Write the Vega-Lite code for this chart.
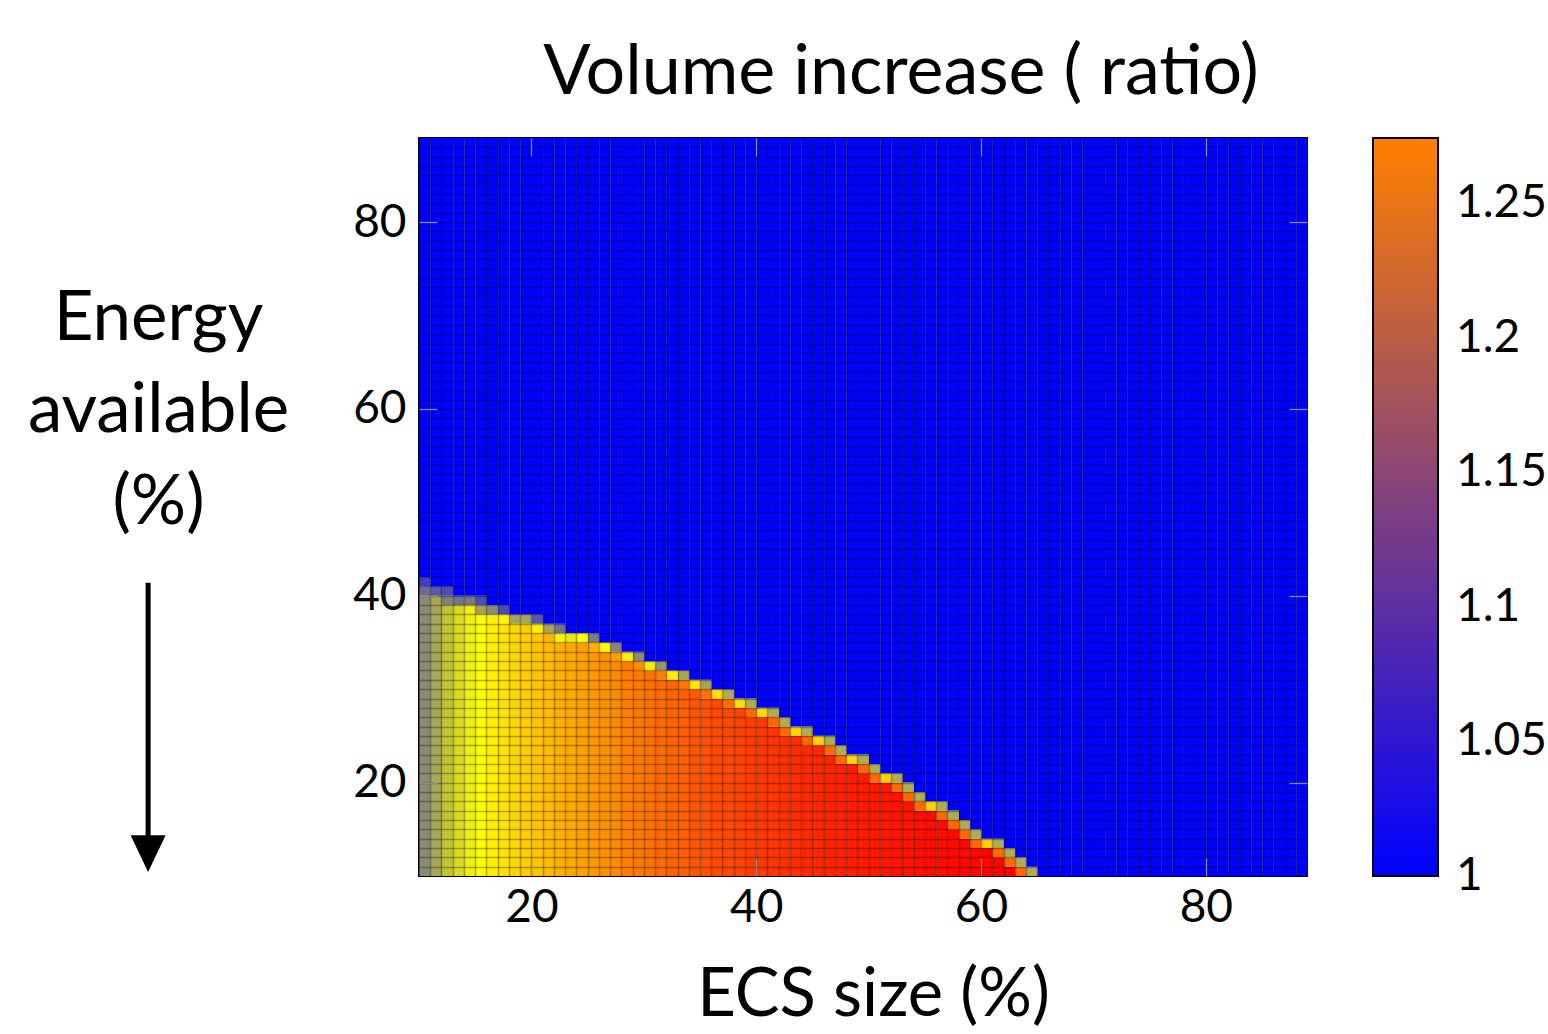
{
  "$schema": "https://vega.github.io/schema/vega-lite/v6.json",
  "width": 888,
  "height": 738,
  "autosize": {"type": "none"},
  "padding": {"left": 419, "top": 138, "right": 241, "bottom": 158},
  "background": "white",
  "config": {
    "font": "Lato",
    "view": {"stroke": "black", "strokeWidth": 2}
  },
  "title": {
    "text": "Volume increase ( ratio)",
    "font": "Lato",
    "fontSize": 70,
    "fontWeight": "normal",
    "color": "black",
    "anchor": "middle",
    "frame": "group",
    "dx": 38,
    "offset": 28
  },
  "data": {
    "values": [
      {"x":10,"y":10,"y2":40,"r":1.055},{"x":10,"y":40,"y2":41,"r":1.042},{"x":10,"y":41,"y2":42,"r":1.025},{"x":10,"y":42,"y2":89,"r":1},
      {"x":11,"y":10,"y2":40,"r":1.066},{"x":11,"y":40,"y2":41,"r":1.035},{"x":11,"y":41,"y2":89,"r":1},
      {"x":12,"y":10,"y2":39,"r":1.077},{"x":12,"y":39,"y2":40,"r":1.05},{"x":12,"y":40,"y2":41,"r":1.03},{"x":12,"y":41,"y2":89,"r":1},
      {"x":13,"y":10,"y2":39,"r":1.086},{"x":13,"y":39,"y2":40,"r":1.045},{"x":13,"y":40,"y2":89,"r":1},
      {"x":14,"y":10,"y2":39,"r":1.094},{"x":14,"y":39,"y2":40,"r":1.048},{"x":14,"y":40,"y2":89,"r":1},
      {"x":15,"y":10,"y2":38,"r":1.1},{"x":15,"y":38,"y2":39,"r":1.065},{"x":15,"y":39,"y2":40,"r":1.03},{"x":15,"y":40,"y2":89,"r":1},
      {"x":16,"y":10,"y2":38,"r":1.11},{"x":16,"y":38,"y2":39,"r":1.055},{"x":16,"y":39,"y2":89,"r":1},
      {"x":17,"y":10,"y2":37,"r":1.119},{"x":17,"y":37,"y2":38,"r":1.105},{"x":17,"y":38,"y2":39,"r":1.03},{"x":17,"y":39,"y2":89,"r":1},
      {"x":18,"y":10,"y2":37,"r":1.127},{"x":18,"y":37,"y2":38,"r":1.065},{"x":18,"y":38,"y2":89,"r":1},
      {"x":19,"y":10,"y2":37,"r":1.134},{"x":19,"y":37,"y2":38,"r":1.065},{"x":19,"y":38,"y2":89,"r":1},
      {"x":20,"y":10,"y2":36,"r":1.139},{"x":20,"y":36,"y2":37,"r":1.108},{"x":20,"y":37,"y2":38,"r":1.035},{"x":20,"y":38,"y2":89,"r":1},
      {"x":21,"y":10,"y2":36,"r":1.146},{"x":21,"y":36,"y2":37,"r":1.065},{"x":21,"y":37,"y2":89,"r":1},
      {"x":22,"y":10,"y2":35,"r":1.152},{"x":22,"y":35,"y2":36,"r":1.11},{"x":22,"y":36,"y2":37,"r":1.045},{"x":22,"y":37,"y2":89,"r":1},
      {"x":23,"y":10,"y2":35,"r":1.158},{"x":23,"y":35,"y2":36,"r":1.092},{"x":23,"y":36,"y2":89,"r":1},
      {"x":24,"y":10,"y2":35,"r":1.163},{"x":24,"y":35,"y2":36,"r":1.1},{"x":24,"y":36,"y2":89,"r":1},
      {"x":25,"y":10,"y2":34,"r":1.169},{"x":25,"y":34,"y2":35,"r":1.155},{"x":25,"y":35,"y2":36,"r":1.05},{"x":25,"y":36,"y2":89,"r":1},
      {"x":26,"y":10,"y2":34,"r":1.174},{"x":26,"y":34,"y2":35,"r":1.105},{"x":26,"y":35,"y2":89,"r":1},
      {"x":27,"y":10,"y2":33,"r":1.179},{"x":27,"y":33,"y2":34,"r":1.165},{"x":27,"y":34,"y2":35,"r":1.052},{"x":27,"y":35,"y2":89,"r":1},
      {"x":28,"y":10,"y2":33,"r":1.185},{"x":28,"y":33,"y2":34,"r":1.11},{"x":28,"y":34,"y2":89,"r":1},
      {"x":29,"y":10,"y2":32,"r":1.19},{"x":29,"y":32,"y2":33,"r":1.175},{"x":29,"y":33,"y2":34,"r":1.055},{"x":29,"y":34,"y2":89,"r":1},
      {"x":30,"y":10,"y2":32,"r":1.195},{"x":30,"y":32,"y2":33,"r":1.112},{"x":30,"y":33,"y2":89,"r":1},
      {"x":31,"y":10,"y2":31,"r":1.199},{"x":31,"y":31,"y2":32,"r":1.185},{"x":31,"y":32,"y2":33,"r":1.06},{"x":31,"y":33,"y2":89,"r":1},
      {"x":32,"y":10,"y2":31,"r":1.203},{"x":32,"y":31,"y2":32,"r":1.115},{"x":32,"y":32,"y2":89,"r":1},
      {"x":33,"y":10,"y2":30,"r":1.207},{"x":33,"y":30,"y2":31,"r":1.19},{"x":33,"y":31,"y2":32,"r":1.065},{"x":33,"y":32,"y2":89,"r":1},
      {"x":34,"y":10,"y2":30,"r":1.211},{"x":34,"y":30,"y2":31,"r":1.118},{"x":34,"y":31,"y2":89,"r":1},
      {"x":35,"y":10,"y2":29,"r":1.215},{"x":35,"y":29,"y2":30,"r":1.195},{"x":35,"y":30,"y2":31,"r":1.065},{"x":35,"y":31,"y2":89,"r":1},
      {"x":36,"y":10,"y2":29,"r":1.219},{"x":36,"y":29,"y2":30,"r":1.12},{"x":36,"y":30,"y2":89,"r":1},
      {"x":37,"y":10,"y2":28,"r":1.222},{"x":37,"y":28,"y2":29,"r":1.197},{"x":37,"y":29,"y2":30,"r":1.067},{"x":37,"y":30,"y2":89,"r":1},
      {"x":38,"y":10,"y2":28,"r":1.225},{"x":38,"y":28,"y2":29,"r":1.122},{"x":38,"y":29,"y2":89,"r":1},
      {"x":39,"y":10,"y2":27,"r":1.229},{"x":39,"y":27,"y2":28,"r":1.199},{"x":39,"y":28,"y2":29,"r":1.068},{"x":39,"y":29,"y2":89,"r":1},
      {"x":40,"y":10,"y2":27,"r":1.231},{"x":40,"y":27,"y2":28,"r":1.125},{"x":40,"y":28,"y2":89,"r":1},
      {"x":41,"y":10,"y2":26,"r":1.234},{"x":41,"y":26,"y2":27,"r":1.2},{"x":41,"y":27,"y2":28,"r":1.068},{"x":41,"y":28,"y2":89,"r":1},
      {"x":42,"y":10,"y2":25,"r":1.237},{"x":42,"y":25,"y2":26,"r":1.2},{"x":42,"y":26,"y2":27,"r":1.068},{"x":42,"y":27,"y2":89,"r":1},
      {"x":43,"y":10,"y2":25,"r":1.239},{"x":43,"y":25,"y2":26,"r":1.127},{"x":43,"y":26,"y2":89,"r":1},
      {"x":44,"y":10,"y2":24,"r":1.241},{"x":44,"y":24,"y2":25,"r":1.2},{"x":44,"y":25,"y2":26,"r":1.068},{"x":44,"y":26,"y2":89,"r":1},
      {"x":45,"y":10,"y2":24,"r":1.243},{"x":45,"y":24,"y2":25,"r":1.128},{"x":45,"y":25,"y2":89,"r":1},
      {"x":46,"y":10,"y2":23,"r":1.245},{"x":46,"y":23,"y2":24,"r":1.2},{"x":46,"y":24,"y2":25,"r":1.068},{"x":46,"y":25,"y2":89,"r":1},
      {"x":47,"y":10,"y2":22,"r":1.247},{"x":47,"y":22,"y2":23,"r":1.2},{"x":47,"y":23,"y2":24,"r":1.068},{"x":47,"y":24,"y2":89,"r":1},
      {"x":48,"y":10,"y2":22,"r":1.249},{"x":48,"y":22,"y2":23,"r":1.128},{"x":48,"y":23,"y2":89,"r":1},
      {"x":49,"y":10,"y2":21,"r":1.251},{"x":49,"y":21,"y2":22,"r":1.2},{"x":49,"y":22,"y2":23,"r":1.068},{"x":49,"y":23,"y2":89,"r":1},
      {"x":50,"y":10,"y2":20,"r":1.253},{"x":50,"y":20,"y2":21,"r":1.2},{"x":50,"y":21,"y2":22,"r":1.068},{"x":50,"y":22,"y2":89,"r":1},
      {"x":51,"y":10,"y2":20,"r":1.255},{"x":51,"y":20,"y2":21,"r":1.13},{"x":51,"y":21,"y2":89,"r":1},
      {"x":52,"y":10,"y2":19,"r":1.256},{"x":52,"y":19,"y2":20,"r":1.2},{"x":52,"y":20,"y2":21,"r":1.068},{"x":52,"y":21,"y2":89,"r":1},
      {"x":53,"y":10,"y2":18,"r":1.257},{"x":53,"y":18,"y2":19,"r":1.2},{"x":53,"y":19,"y2":20,"r":1.068},{"x":53,"y":20,"y2":89,"r":1},
      {"x":54,"y":10,"y2":17,"r":1.259},{"x":54,"y":17,"y2":18,"r":1.2},{"x":54,"y":18,"y2":19,"r":1.068},{"x":54,"y":19,"y2":89,"r":1},
      {"x":55,"y":10,"y2":17,"r":1.26},{"x":55,"y":17,"y2":18,"r":1.13},{"x":55,"y":18,"y2":89,"r":1},
      {"x":56,"y":10,"y2":16,"r":1.261},{"x":56,"y":16,"y2":17,"r":1.2},{"x":56,"y":17,"y2":18,"r":1.068},{"x":56,"y":18,"y2":89,"r":1},
      {"x":57,"y":10,"y2":15,"r":1.263},{"x":57,"y":15,"y2":16,"r":1.2},{"x":57,"y":16,"y2":17,"r":1.068},{"x":57,"y":17,"y2":89,"r":1},
      {"x":58,"y":10,"y2":14,"r":1.264},{"x":58,"y":14,"y2":15,"r":1.2},{"x":58,"y":15,"y2":16,"r":1.068},{"x":58,"y":16,"y2":89,"r":1},
      {"x":59,"y":10,"y2":13,"r":1.265},{"x":59,"y":13,"y2":14,"r":1.2},{"x":59,"y":14,"y2":15,"r":1.068},{"x":59,"y":15,"y2":89,"r":1},
      {"x":60,"y":10,"y2":13,"r":1.267},{"x":60,"y":13,"y2":14,"r":1.13},{"x":60,"y":14,"y2":89,"r":1},
      {"x":61,"y":10,"y2":12,"r":1.268},{"x":61,"y":12,"y2":13,"r":1.2},{"x":61,"y":13,"y2":14,"r":1.068},{"x":61,"y":14,"y2":89,"r":1},
      {"x":62,"y":10,"y2":11,"r":1.269},{"x":62,"y":11,"y2":12,"r":1.2},{"x":62,"y":12,"y2":13,"r":1.068},{"x":62,"y":13,"y2":89,"r":1},
      {"x":63,"y":10,"y2":11,"r":1.2},{"x":63,"y":11,"y2":12,"r":1.068},{"x":63,"y":12,"y2":89,"r":1},
      {"x":64,"y":10,"y2":11,"r":1.068},{"x":64,"y":11,"y2":89,"r":1},
      {"x":65,"y":10,"y2":89,"r":1},{"x":66,"y":10,"y2":89,"r":1},{"x":67,"y":10,"y2":89,"r":1},{"x":68,"y":10,"y2":89,"r":1},
      {"x":69,"y":10,"y2":89,"r":1},{"x":70,"y":10,"y2":89,"r":1},{"x":71,"y":10,"y2":89,"r":1},{"x":72,"y":10,"y2":89,"r":1},
      {"x":73,"y":10,"y2":89,"r":1},{"x":74,"y":10,"y2":89,"r":1},{"x":75,"y":10,"y2":89,"r":1},{"x":76,"y":10,"y2":89,"r":1},
      {"x":77,"y":10,"y2":89,"r":1},{"x":78,"y":10,"y2":89,"r":1},{"x":79,"y":10,"y2":89,"r":1},{"x":80,"y":10,"y2":89,"r":1},
      {"x":81,"y":10,"y2":89,"r":1},{"x":82,"y":10,"y2":89,"r":1},{"x":83,"y":10,"y2":89,"r":1},{"x":84,"y":10,"y2":89,"r":1},
      {"x":85,"y":10,"y2":89,"r":1},{"x":86,"y":10,"y2":89,"r":1},{"x":87,"y":10,"y2":89,"r":1},{"x":88,"y":10,"y2":89,"r":1}
    ]
  },
  "resolve": {
    "scale": {"color": "independent"},
    "axis": {"x": "independent", "y": "independent"}
  },
  "layer": [
    {
      "mark": {"type": "rect", "binSpacing": 0},
      "encoding": {
        "x": {
          "field": "x", "type": "quantitative",
          "bin": {"binned": true, "step": 1},
          "scale": {"domain": [10, 89], "nice": false, "zero": false},
          "axis": {
            "orient": "bottom", "values": [20, 40, 60, 80], "format": "d",
            "domain": false, "grid": false,
            "tickSize": -18, "tickColor": "#8a8a8a", "tickWidth": 1.3,
            "labelFont": "Lato", "labelFontSize": 46, "labelColor": "black", "labelPadding": 27,
            "labelFlush": false, "labelOverlap": false,
            "title": "ECS size (%)", "titleFont": "Lato", "titleFontSize": 67, "titleFontWeight": "normal",
            "titleColor": "black", "titleX": 454, "titleY": 139, "titleBaseline": "alphabetic", "titleAlign": "center",
            "zindex": 1
          }
        },
        "y": {
          "field": "y", "type": "quantitative",
          "scale": {"domain": [10, 89], "nice": false, "zero": false},
          "axis": {
            "orient": "left", "values": [20, 40, 60, 80], "format": "d",
            "domain": false, "grid": false,
            "tickSize": -18, "tickColor": "#8a8a8a", "tickWidth": 1.3,
            "labelFont": "Lato", "labelFontSize": 46, "labelColor": "black", "labelPadding": 31,
            "labelFlush": false, "labelOverlap": false,
            "title": ["Energy", "available", "(%)"], "titleFont": "Lato", "titleFontSize": 69, "titleFontWeight": "normal",
            "titleColor": "black", "titleAngle": 0, "titleAlign": "center", "titleBaseline": "alphabetic",
            "titleX": -261, "titleY": 201, "titleLineHeight": 92,
            "zindex": 1
          }
        },
        "y2": {"field": "y2"},
        "color": {
          "field": "r", "type": "quantitative",
          "scale": {"domain": [1, 1.1, 1.27], "range": ["#0000ff", "#ffff00", "#ff0000"], "interpolate": "rgb"},
          "legend": null
        }
      }
    },
    {
      "mark": {"type": "point", "opacity": 0},
      "encoding": {
        "x": {
          "field": "x", "type": "quantitative",
          "axis": {
            "orient": "bottom",
            "values": [11,12,13,14,15,16,17,18,19,20,21,22,23,24,25,26,27,28,29,30,31,32,33,34,35,36,37,38,39,40,41,42,43,44,45,46,47,48,49,50,51,52,53,54,55,56,57,58,59,60,61,62,63,64,65,66,67,68,69,70,71,72,73,74,75,76,77,78,79,80,81,82,83,84,85,86,87,88],
            "grid": true, "gridColor": "black", "gridOpacity": 0.3, "gridWidth": 1.6,
            "labels": false, "ticks": false, "domain": false, "title": null, "zindex": 1
          }
        },
        "y": {
          "field": "y", "type": "quantitative",
          "axis": {
            "orient": "left",
            "values": [11,12,13,14,15,16,17,18,19,20,21,22,23,24,25,26,27,28,29,30,31,32,33,34,35,36,37,38,39,40,41,42,43,44,45,46,47,48,49,50,51,52,53,54,55,56,57,58,59,60,61,62,63,64,65,66,67,68,69,70,71,72,73,74,75,76,77,78,79,80,81,82,83,84,85,86,87,88],
            "grid": true, "gridColor": "black", "gridOpacity": 0.3, "gridWidth": 1.6,
            "labels": false, "ticks": false, "domain": false, "title": null, "zindex": 1
          }
        },
        "color": {
          "field": "r", "type": "quantitative",
          "scale": {"domain": [1, 1.2743], "range": ["#0000ff", "#ff8000"], "interpolate": "rgb"},
          "legend": {
            "type": "gradient", "direction": "vertical", "orient": "none",
            "legendX": 954, "legendY": 0, "padding": 0,
            "gradientLength": 738, "gradientThickness": 65,
            "gradientStrokeColor": "black", "gradientStrokeWidth": 2,
            "values": [1, 1.05, 1.1, 1.15, 1.2, 1.25], "format": "~g",
            "labelFont": "Lato", "labelFontSize": 46, "labelColor": "black", "labelOffset": 18,
            "labelBaseline": "middle", "labelOverlap": false, "labelLimit": 300,
            "title": null,
            "encoding": {"labels": {"baseline": {"value": "middle"}}}
          }
        }
      }
    },
    {
      "mark": {"type": "point", "opacity": 0},
      "encoding": {
        "x": {
          "field": "x", "type": "quantitative",
          "axis": {
            "orient": "top", "values": [20, 40, 60, 80],
            "tickSize": -18, "tickColor": "#8a8a8a", "tickWidth": 1.3,
            "labels": false, "domain": false, "grid": false, "title": null, "zindex": 1
          }
        },
        "y": {
          "field": "y", "type": "quantitative",
          "axis": {
            "orient": "right", "values": [20, 40, 60, 80],
            "tickSize": -18, "tickColor": "#8a8a8a", "tickWidth": 1.3,
            "labels": false, "domain": false, "grid": false, "title": null, "zindex": 1
          }
        }
      }
    },
    {
      "data": {"values": [{}]},
      "mark": {"type": "rule", "strokeWidth": 5, "color": "black", "clip": false},
      "encoding": {
        "x": {"datum": -14.1, "type": "quantitative", "axis": null},
        "y": {"datum": 41.4, "type": "quantitative", "axis": null},
        "y2": {"datum": 13.8}
      }
    },
    {
      "data": {"values": [{}]},
      "mark": {"type": "point", "shape": "M-1,-1L1,-1L0,1.1Z", "size": 1225, "filled": true, "color": "black", "opacity": 1, "clip": false},
      "encoding": {
        "x": {"datum": -14.1, "type": "quantitative", "axis": null},
        "y": {"datum": 12.5, "type": "quantitative", "axis": null}
      }
    }
  ]
}
